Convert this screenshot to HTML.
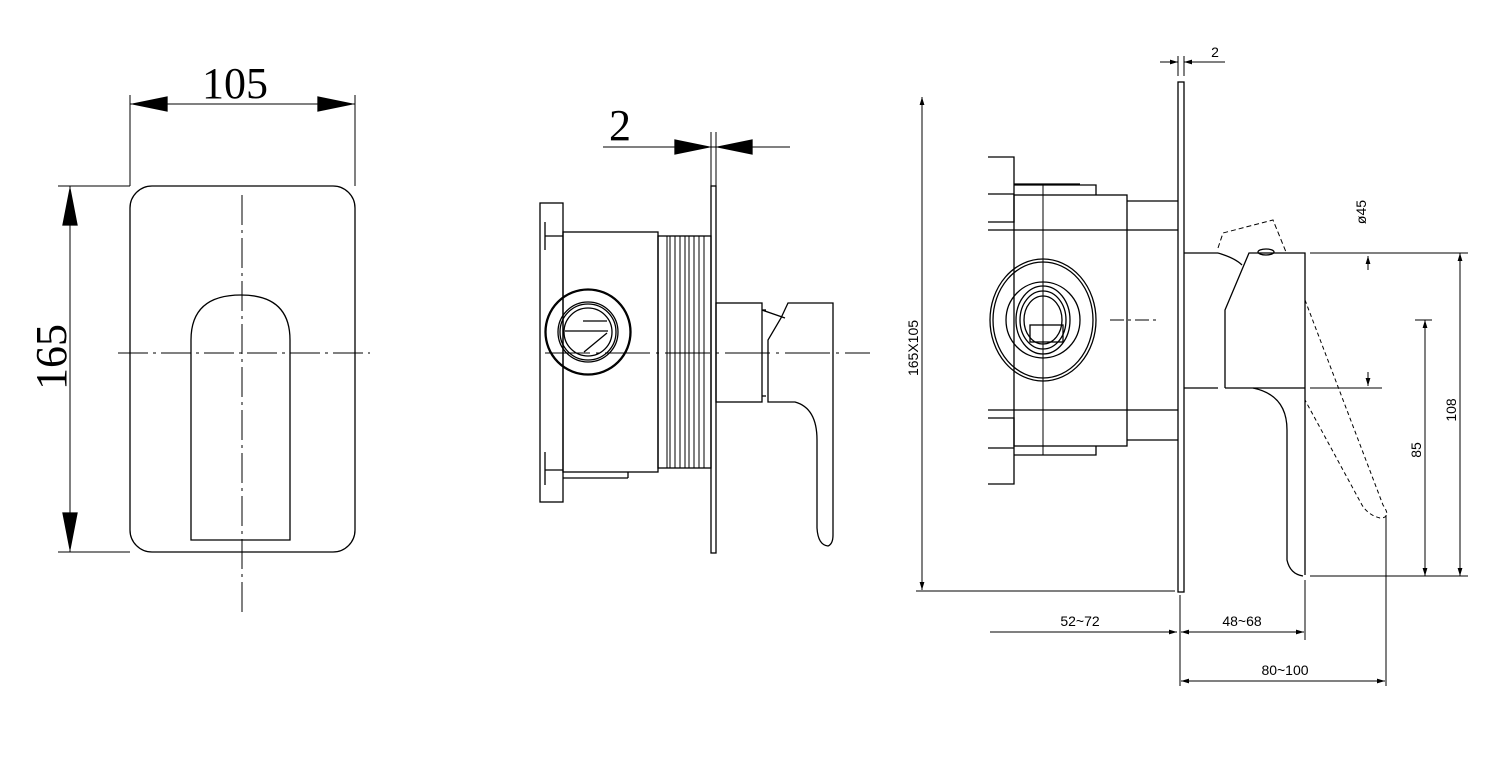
<!DOCTYPE html>
<html><head><meta charset="utf-8"><style>
html,body{margin:0;padding:0;background:#fff;}
svg{display:block;}
text{font-family:"Liberation Sans",sans-serif;fill:#000;}
.s{font-family:"Liberation Serif",serif;}
</style></head><body>
<svg width="1500" height="758" viewBox="0 0 1500 758" xmlns="http://www.w3.org/2000/svg" fill="none" stroke="#000" stroke-width="1.3">
<defs>
<marker id="a" viewBox="0 0 10 10" refX="10" refY="5" markerWidth="8" markerHeight="8" orient="auto-start-reverse" markerUnits="userSpaceOnUse"><path d="M0,2 L10,5 L0,8z" fill="#000" stroke="none"/></marker>
</defs>
<!-- LEFT VIEW -->
<rect x="130" y="186" width="225" height="366" rx="22"/>
<path d="M191,540 L191,340 Q191,295 241,295 Q290,295 290,340 L290,540 Z"/>
<line x1="242" y1="195" x2="242" y2="617" stroke-dasharray="30,5,3,5" stroke-width="1"/>
<line x1="118" y1="353" x2="370" y2="353" stroke-dasharray="30,5,3,5" stroke-width="1"/>
<line x1="130" y1="95" x2="130" y2="186" stroke-width="1"/>
<line x1="355" y1="95" x2="355" y2="186" stroke-width="1"/>
<line x1="130" y1="104" x2="355" y2="104" stroke-width="1"/>
<polygon points="133,104 167,97 167,111" fill="#000"/>
<polygon points="352,104 318,97 318,111" fill="#000"/>
<text x="235" y="98" font-size="44" text-anchor="middle" class="s" stroke="none">105</text>
<line x1="58" y1="186" x2="130" y2="186" stroke-width="1"/>
<line x1="58" y1="552" x2="130" y2="552" stroke-width="1"/>
<line x1="70" y1="186" x2="70" y2="552" stroke-width="1"/>
<polygon points="70,189 63,225 77,225" fill="#000"/>
<polygon points="70,549 63,513 77,513" fill="#000"/>
<text x="0" y="0" font-size="44" text-anchor="middle" class="s" stroke="none" transform="translate(66,357) rotate(-90)">165</text>
<!-- MIDDLE VIEW -->
<rect x="540" y="203" width="23" height="299"/>
<line x1="545" y1="222" x2="545" y2="250"/><line x1="545" y1="452" x2="545" y2="485"/>
<line x1="545" y1="236" x2="563" y2="236"/><line x1="545" y1="470" x2="563" y2="470"/>
<rect x="563" y="232" width="95" height="240"/>
<line x1="563" y1="478" x2="628" y2="478"/><line x1="628" y1="472" x2="628" y2="478"/>
<rect x="658" y="236" width="53" height="232"/>
<g stroke-width="1">
<line x1="667" y1="236" x2="667" y2="468"/><line x1="670" y1="236" x2="670" y2="468"/>
<line x1="675" y1="236" x2="675" y2="468"/><line x1="680" y1="236" x2="680" y2="468"/>
<line x1="685" y1="236" x2="685" y2="468"/><line x1="689" y1="236" x2="689" y2="468"/>
<line x1="694" y1="236" x2="694" y2="468"/><line x1="699" y1="236" x2="699" y2="468"/>
<line x1="704" y1="236" x2="704" y2="468"/>
</g>
<circle cx="588" cy="332" r="43"/><circle cx="588" cy="332" r="42"/>
<circle cx="588" cy="332" r="30"/><circle cx="588" cy="332" r="28"/>
<circle cx="588" cy="332" r="24"/>
<line x1="565" y1="331" x2="608" y2="331"/><line x1="583" y1="321" x2="607" y2="321"/>
<path d="M584,352 L607,333"/>
<rect x="711" y="186" width="5" height="367"/>
<rect x="716" y="303" width="46" height="99"/>
<line x1="762" y1="310" x2="766" y2="310"/><line x1="762" y1="396" x2="766" y2="396"/>
<path d="M768,402 L795,402 Q817,408 817,440 L817,528 Q818,545 828,546 Q833,544 833,535 L833,303 L788,303 L781,318 L768,340 Z"/>
<path d="M762,310 L785,318"/>
<line x1="545" y1="353" x2="870" y2="353" stroke-dasharray="45,6,3,6" stroke-width="1"/>
<line x1="711" y1="132" x2="711" y2="186" stroke-width="1"/>
<line x1="716" y1="132" x2="716" y2="186" stroke-width="1"/>
<line x1="603" y1="147" x2="790" y2="147" stroke-width="1"/>
<polygon points="709,147 675,140 675,154" fill="#000"/>
<polygon points="718,147 752,140 752,154" fill="#000"/>
<text x="620" y="140" font-size="44" text-anchor="middle" class="s" stroke="none">2</text>
<!-- RIGHT VIEW -->
<line x1="922" y1="97" x2="922" y2="590" stroke-width="1" marker-start="url(#a)" marker-end="url(#a)"/>
<line x1="916" y1="591" x2="1175" y2="591" stroke-width="1"/>
<text x="0" y="0" font-size="14" text-anchor="middle" stroke="none" transform="translate(918,348) rotate(-90)">165X105</text>
<rect x="1178" y="82" width="6" height="510"/>
<line x1="1178" y1="56" x2="1178" y2="76" stroke-width="1"/><line x1="1184" y1="56" x2="1184" y2="76" stroke-width="1"/>
<line x1="1160" y1="62" x2="1178" y2="62" stroke-width="1" marker-end="url(#a)"/>
<line x1="1225" y1="62" x2="1184" y2="62" stroke-width="1" marker-end="url(#a)"/>
<text x="1215" y="57" font-size="14" text-anchor="middle" stroke="none">2</text>
<rect x="1014" y="195" width="113" height="251"/>
<line x1="988" y1="230" x2="1178" y2="230"/><line x1="988" y1="410" x2="1178" y2="410"/>
<line x1="1127" y1="201" x2="1178" y2="201"/><line x1="1127" y1="440" x2="1178" y2="440"/>
<path d="M988,157 L1014,157 L1014,222 L988,222 M988,194 L1014,194"/>
<path d="M988,418 L1014,418 L1014,484 L988,484 M988,448 L1014,448"/>
<path d="M1014,185 L1096,185 L1096,195 M1014,184 L1080,184"/>
<path d="M1014,455 L1096,455 L1096,446"/>
<line x1="1043" y1="185" x2="1043" y2="455" stroke-width="1"/>
<ellipse cx="1043" cy="320" rx="53" ry="61"/><ellipse cx="1043" cy="320" rx="50" ry="58"/>
<ellipse cx="1043" cy="320" rx="37" ry="38"/>
<ellipse cx="1043" cy="320" rx="27" ry="34"/><ellipse cx="1043" cy="320" rx="23" ry="29"/>
<ellipse cx="1043" cy="320" rx="19" ry="24"/>
<rect x="1030" y="325" width="33" height="17"/>
<line x1="1110" y1="320" x2="1157" y2="320" stroke-width="1" stroke-dasharray="14,4,3,4"/>
<line x1="1184" y1="253" x2="1218" y2="253"/><line x1="1184" y1="388" x2="1218" y2="388"/>
<path d="M1225,388 L1225,310 L1249,253 L1305,253 L1305,575"/>
<path d="M1225,388 L1305,388"/>
<path d="M1253,388 Q1287,395 1287,430 L1287,560 Q1290,574 1303,576"/>
<ellipse cx="1266" cy="252" rx="8" ry="3"/>
<path d="M1218,253 Q1235,258 1242,265"/>
<path d="M1218,248 L1223,233 L1273,220 L1286,252" stroke-dasharray="5,3" stroke-width="1"/>
<path d="M1305,300 L1383,505 Q1392,518 1380,518 Q1368,515 1362,505 L1305,400" stroke-dasharray="4,3" stroke-width="1"/>
<line x1="1310" y1="253" x2="1468" y2="253" stroke-width="1"/>
<line x1="1310" y1="388" x2="1382" y2="388" stroke-width="1"/>
<line x1="1310" y1="576" x2="1468" y2="576" stroke-width="1"/>
<line x1="1368" y1="270" x2="1368" y2="256" stroke-width="1" marker-end="url(#a)"/>
<line x1="1368" y1="372" x2="1368" y2="386" stroke-width="1" marker-end="url(#a)"/>
<text x="0" y="0" font-size="14" text-anchor="middle" stroke="none" transform="translate(1366,212) rotate(-90)">ø45</text>
<line x1="1460" y1="253" x2="1460" y2="576" stroke-width="1" marker-start="url(#a)" marker-end="url(#a)"/>
<text x="0" y="0" font-size="14" text-anchor="middle" stroke="none" transform="translate(1456,410) rotate(-90)">108</text>
<line x1="1415" y1="320" x2="1432" y2="320" stroke-width="1"/>
<line x1="1425" y1="320" x2="1425" y2="576" stroke-width="1" marker-start="url(#a)" marker-end="url(#a)"/>
<text x="0" y="0" font-size="14" text-anchor="middle" stroke="none" transform="translate(1421,450) rotate(-90)">85</text>
<line x1="1180" y1="595" x2="1180" y2="686" stroke-width="1"/>
<line x1="1305" y1="580" x2="1305" y2="640" stroke-width="1"/>
<line x1="1386" y1="515" x2="1386" y2="686" stroke-width="1"/>
<line x1="990" y1="632" x2="1177" y2="632" stroke-width="1" marker-end="url(#a)"/>
<text x="1080" y="626" font-size="14" text-anchor="middle" stroke="none">52~72</text>
<line x1="1181" y1="632" x2="1304" y2="632" stroke-width="1" marker-start="url(#a)" marker-end="url(#a)"/>
<text x="1242" y="626" font-size="14" text-anchor="middle" stroke="none">48~68</text>
<line x1="1181" y1="681" x2="1385" y2="681" stroke-width="1" marker-start="url(#a)" marker-end="url(#a)"/>
<text x="1285" y="675" font-size="14" text-anchor="middle" stroke="none">80~100</text>
</svg>
</body></html>
